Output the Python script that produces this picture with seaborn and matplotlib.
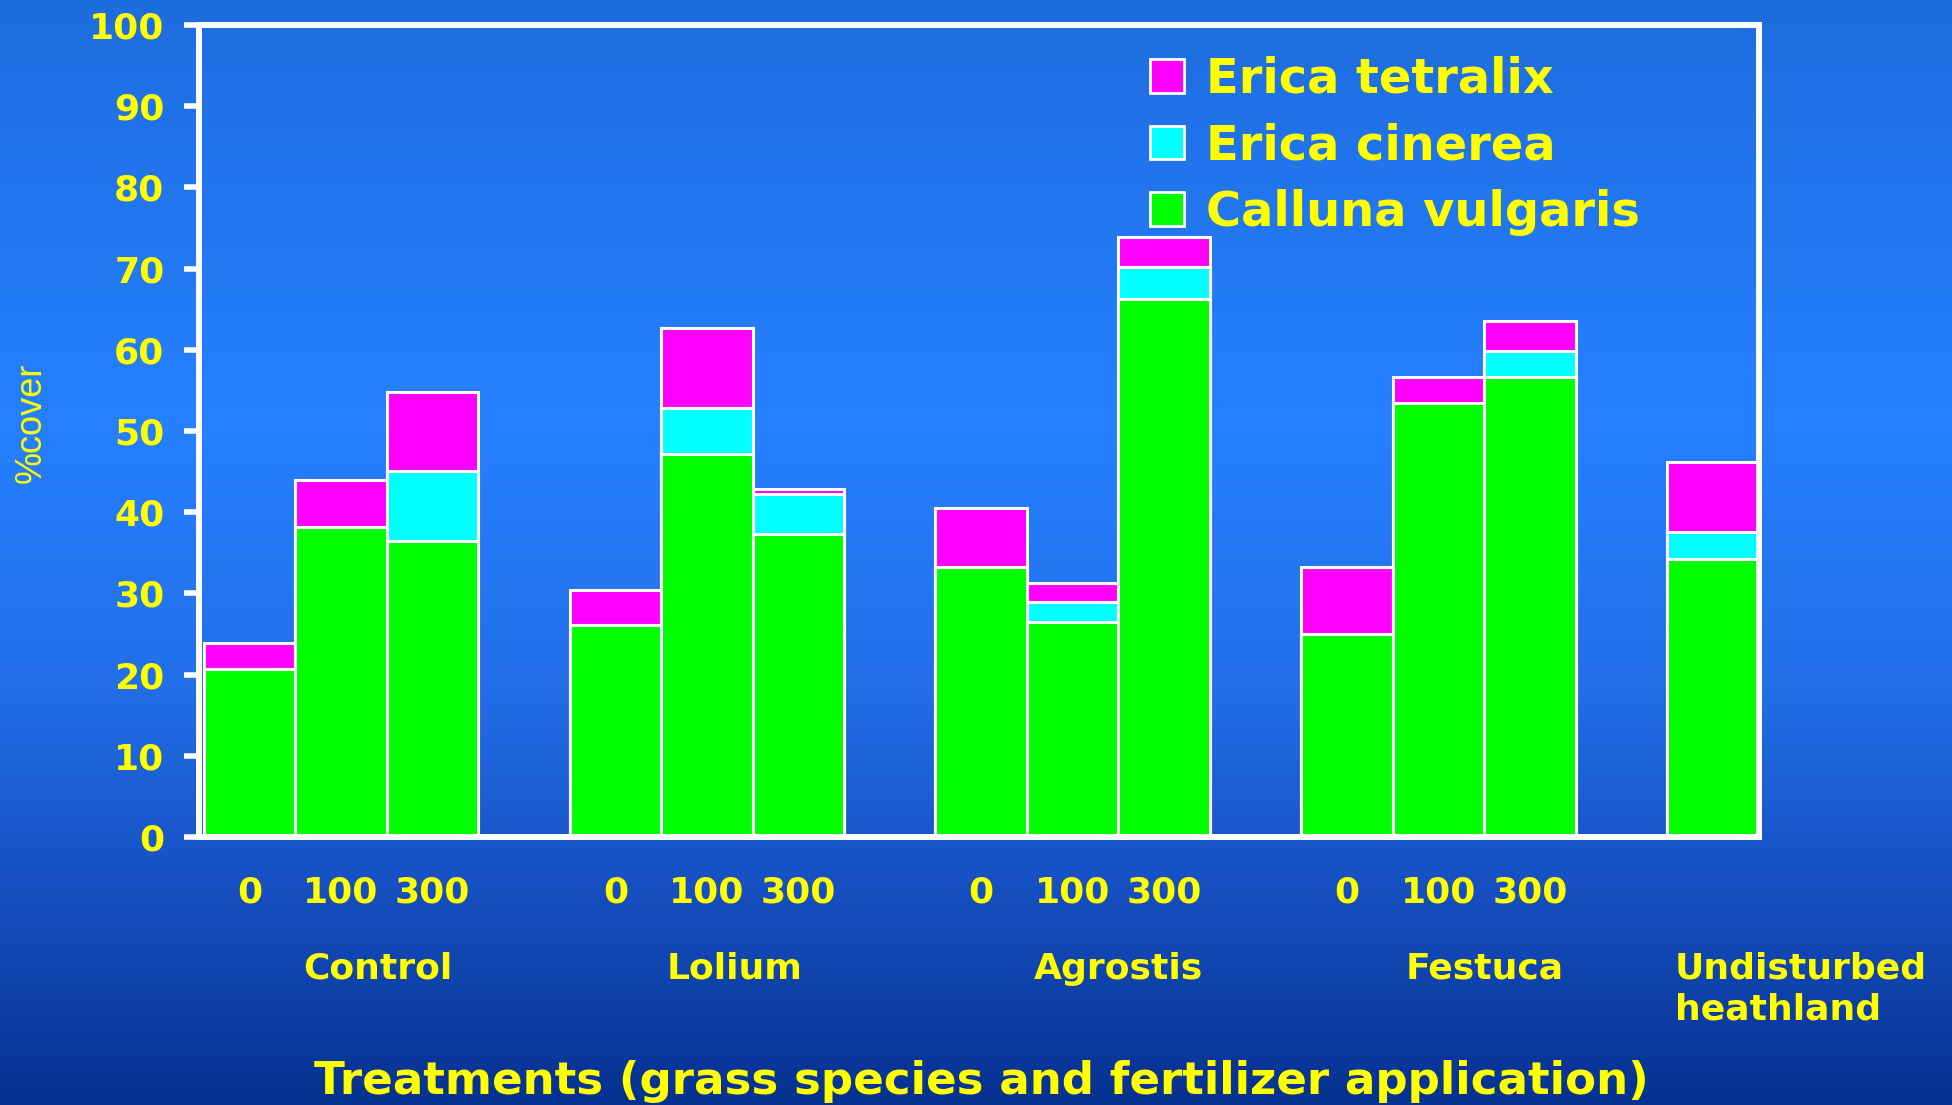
import numpy as np
import pandas as pd
import seaborn as sns
import matplotlib.pyplot as plt
from matplotlib.colors import LinearSegmentedColormap
from matplotlib.patches import Patch
from matplotlib.transforms import blended_transform_factory

# Treatments and fertilizer levels
treatments = ["Control", "Lolium", "Agrostis", "Festuca"]
fertilizer = ["0", "100", "300"]
reference = "Undisturbed\nheathland"

# % cover per bar (12 treatment bars + undisturbed heathland)
calluna = [20.7, 38.2, 36.5, 26.1, 47.2, 37.3, 33.3, 26.5, 66.3, 25.0, 53.4, 56.6, 34.2]
cinerea = [0.0, 0.0, 8.6, 0.0, 5.6, 4.9, 0.0, 2.5, 3.9, 0.0, 0.0, 3.2, 3.4]
tetralix = [3.2, 5.8, 9.7, 4.3, 9.9, 0.7, 7.2, 2.3, 3.7, 8.3, 3.3, 3.7, 8.6]

species = ["Erica tetralix", "Erica cinerea", "Calluna vulgaris"]
colors = {"Erica tetralix": "#ff00ff", "Erica cinerea": "#00ffff", "Calluna vulgaris": "#00ff00"}

YELLOW = "#ffff00"

# slot names, with empty spacer slots between groups
bar_names = [f"{t} {f}" for t in treatments for f in fertilizer] + ["Undisturbed"]
order = []
for i, t in enumerate(treatments):
    order += [f"{t} {f}" for f in fertilizer]
    order.append(" " * (i + 1))
order.append("Undisturbed")

df = pd.DataFrame({"bar": bar_names, "calluna": calluna, "cinerea": cinerea, "tetralix": tetralix})
df["cum_cinerea"] = df["calluna"] + df["cinerea"]
df["cum_tetralix"] = df["cum_cinerea"] + df["tetralix"]

plt.rcParams["font.family"] = ["DejaVu Sans"]

fig = plt.figure(figsize=(19.52, 11.05), dpi=100)

# background gradient
bg = fig.add_axes([0, 0, 1, 1], zorder=-10)
cmap = LinearSegmentedColormap.from_list(
    "bg", [(0.0, "#1e6ddf"), (0.38, "#2680ff"), (0.62, "#226fe8"),
           (0.8, "#1750c2"), (1.0, "#06318f")])
bg.imshow(np.linspace(0, 1, 256).reshape(-1, 1), aspect="auto", cmap=cmap,
          extent=[0, 1, 0, 1], origin="upper")
bg.axis("off")

ax = fig.add_axes([0.102, 0.2425, 0.799, 0.735])
ax.set_facecolor("none")

bar_kw = dict(data=df, x="bar", order=order, width=1.0, edgecolor="white",
              linewidth=2.2, ax=ax, saturation=1)
sns.barplot(y="cum_tetralix", color=colors["Erica tetralix"], **bar_kw)
sns.barplot(y="cum_cinerea", color=colors["Erica cinerea"], **bar_kw)
sns.barplot(y="calluna", color=colors["Calluna vulgaris"], **bar_kw)

ax.set_ylim(0, 100)
ax.set_xlim(-0.55, len(order) - 0.5)
ax.set_yticks(range(0, 101, 10))
ax.set_xlabel("")
ax.set_ylabel("")

# x tick labels: fertilizer levels only
xt = [lbl.split(" ")[-1] if lbl.strip() and lbl != "Undisturbed" else "" for lbl in order]
ax.set_xticks(range(len(order)))
ax.set_xticklabels(xt)

for s in ax.spines.values():
    s.set_color("white")
    s.set_linewidth(4.3)
ax.tick_params(axis="y", colors="white", width=4, length=11, pad=14,
               labelcolor=YELLOW, labelsize=26)
ax.tick_params(axis="x", length=0, pad=28, labelcolor=YELLOW, labelsize=26)
for lbl in ax.get_xticklabels() + ax.get_yticklabels():
    lbl.set_fontweight("bold")

# group labels under the fertilizer levels (slightly right of group centre)
trans = blended_transform_factory(ax.transData, ax.transAxes)
label_shift = [1.4, 1.3, 1.5, 1.5]
for i, t in enumerate(treatments):
    ax.text(i * 4 + label_shift[i], -0.141, t, transform=trans, ha="center", va="top",
            color=YELLOW, fontsize=26, fontweight="bold")
ax.text(order.index("Undisturbed") - 0.42, -0.141, reference, transform=trans,
        ha="left", va="top", color=YELLOW, fontsize=26, fontweight="bold",
        linespacing=1.25)

handles = [Patch(facecolor=colors[s], edgecolor="white", linewidth=2) for s in species]
leg = ax.legend(handles, species, loc="upper left", bbox_to_anchor=(0.61, 0.962),
                frameon=False, fontsize=34.5, handlelength=0.7, handleheight=0.7,
                handletextpad=0.45, labelspacing=0.41, borderaxespad=0, borderpad=0)
for txt in leg.get_texts():
    txt.set_color(YELLOW)
    txt.set_fontweight("bold")

fig.text(0.016, 0.617, "%cover", rotation=90, ha="center", va="center",
         color=YELLOW, fontsize=26, family=["Liberation Sans", "DejaVu Sans"])
fig.text(0.5026, 0.021, "Treatments (grass species and fertilizer application)",
         ha="center", va="center", color=YELLOW, fontsize=32.5, fontweight="bold")

fig.savefig("out.png", dpi=100)
